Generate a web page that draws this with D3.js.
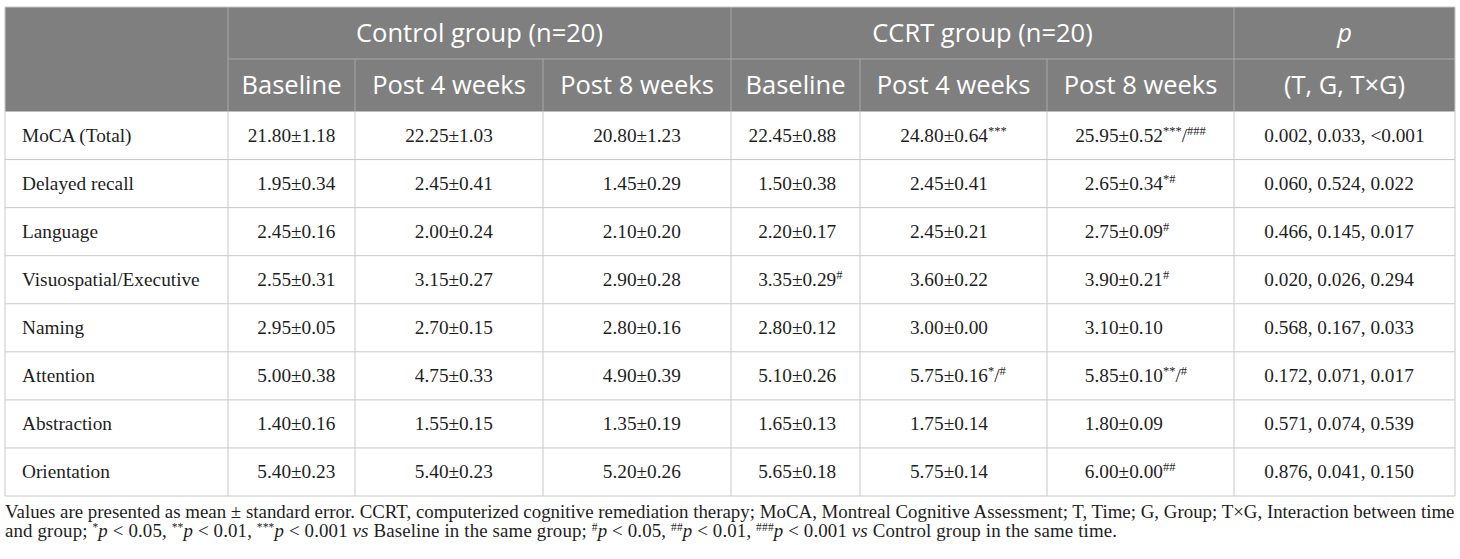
<!DOCTYPE html>
<html>
<head>
<meta charset="utf-8">
<script src="https://cdn.jsdelivr.net/npm/d3@7"></script>
<style>
  html, body { margin: 0; padding: 0; background: #fff; }
  svg { display: block; }
</style>
</head>
<body>
<svg id="chart" width="1460" height="559"></svg>
<script>
// ---------- DATA ----------
const rowLabels = ["MoCA (Total)", "Delayed recall", "Language", "Visuospatial/Executive",
                   "Naming", "Attention", "Abstraction", "Orientation"];
const groupLabels = ["Control group (n=20)", "CCRT group (n=20)"];
const timeLabels = ["Baseline", "Post 4 weeks", "Post 8 weeks"];
const pHeader = "p";
const pSubHeader = "(T, G, T×G)";

const controlBaseline = ["21.80±1.18", "1.95±0.34", "2.45±0.16", "2.55±0.31", "2.95±0.05", "5.00±0.38", "1.40±0.16", "5.40±0.23"];
const controlPost4    = ["22.25±1.03", "2.45±0.41", "2.00±0.24", "3.15±0.27", "2.70±0.15", "4.75±0.33", "1.55±0.15", "5.40±0.23"];
const controlPost8    = ["20.80±1.23", "1.45±0.29", "2.10±0.20", "2.90±0.28", "2.80±0.16", "4.90±0.39", "1.35±0.19", "5.20±0.26"];
const ccrtBaseline    = ["22.45±0.88", "1.50±0.38", "2.20±0.17", "3.35±0.29", "2.80±0.12", "5.10±0.26", "1.65±0.13", "5.65±0.18"];
const ccrtPost4       = ["24.80±0.64", "2.45±0.41", "2.45±0.21", "3.60±0.22", "3.00±0.00", "5.75±0.16", "1.75±0.14", "5.75±0.14"];
const ccrtPost8       = ["25.95±0.52", "2.65±0.34", "2.75±0.09", "3.90±0.21", "3.10±0.10", "5.85±0.10", "1.80±0.09", "6.00±0.00"];
const ccrtBaselineMarks = ["", "", "", "#", "", "", "", ""];
const ccrtPost4Marks    = ["***", "", "", "", "", "*/#", "", ""];
const ccrtPost8Marks    = ["***/###", "*#", "#", "#", "", "**/#", "", "##"];
const pValues = ["0.002, 0.033, <0.001", "0.060, 0.524, 0.022", "0.466, 0.145, 0.017", "0.020, 0.026, 0.294",
                 "0.568, 0.167, 0.033", "0.172, 0.071, 0.017", "0.571, 0.074, 0.539", "0.876, 0.041, 0.150"];
const emptyMarks = rowLabels.map(() => "");

// ---------- LAYOUT ----------
const colEdges = [5, 228, 355, 543, 731, 860, 1047, 1234, 1455];
const tableTop = 7, head1 = 59, head2 = 111.5, tableBottom = 496;
const headerFill = "#7f7f7f", headerLine = "#a8a8a8", gridLine = "#c8c8c8";
const serif = "'Liberation Serif', 'Times New Roman', serif";
const sans = "'Open Sans', 'Noto Sans', sans-serif";
const bodySize = 19.3, supSize = 12.5;

const svg = d3.select("#chart");
const yRow = d3.scaleBand().domain(rowLabels).range([head2, tableBottom]).padding(0);

const columns = [
  { vals: controlBaseline, marks: emptyMarks },
  { vals: controlPost4, marks: emptyMarks },
  { vals: controlPost8, marks: emptyMarks },
  { vals: ccrtBaseline, marks: ccrtBaselineMarks },
  { vals: ccrtPost4, marks: ccrtPost4Marks },
  { vals: ccrtPost8, marks: ccrtPost8Marks },
  { vals: pValues, marks: emptyMarks }
];

// header background
svg.append("rect").attr("x", colEdges[0]).attr("y", tableTop)
  .attr("width", colEdges[8] - colEdges[0]).attr("height", head2 - tableTop)
  .attr("fill", headerFill);

// header lines
const hl = svg.append("g").attr("stroke", headerLine).attr("stroke-width", 1);
hl.append("line").attr("x1", colEdges[1]).attr("x2", colEdges[8]).attr("y1", head1).attr("y2", head1);
[1, 4, 7].forEach(i => hl.append("line").attr("x1", colEdges[i]).attr("x2", colEdges[i]).attr("y1", tableTop).attr("y2", head2));
[2, 3, 5, 6].forEach(i => hl.append("line").attr("x1", colEdges[i]).attr("x2", colEdges[i]).attr("y1", head1).attr("y2", head2));

// header text
const ht = svg.append("g").attr("font-family", sans).attr("font-size", 25.5).attr("fill", "#ffffff")
  .attr("text-anchor", "middle");
groupLabels.forEach((g, i) => {
  const x0 = colEdges[1 + i * 3], x1 = colEdges[4 + i * 3];
  ht.append("text").attr("x", (x0 + x1) / 2).attr("y", (tableTop + head1) / 2).attr("dy", "0.36em").text(g);
});
ht.append("text").attr("x", (colEdges[7] + colEdges[8]) / 2).attr("y", (tableTop + head1) / 2)
  .attr("dy", "0.36em").attr("font-style", "italic").text(pHeader);
for (let gi = 0; gi < 2; gi++) {
  timeLabels.forEach((t, ti) => {
    const c = 1 + gi * 3 + ti;
    ht.append("text").attr("x", (colEdges[c] + colEdges[c + 1]) / 2).attr("y", (head1 + head2) / 2)
      .attr("dy", "0.36em").text(t);
  });
}
ht.append("text").attr("x", (colEdges[7] + colEdges[8]) / 2).attr("y", (head1 + head2) / 2)
  .attr("dy", "0.36em").text(pSubHeader);

// body grid
const gl = svg.append("g").attr("stroke", gridLine).attr("stroke-width", 1).attr("fill", "none");
rowLabels.forEach(r => {
  gl.append("line").attr("x1", colEdges[0]).attr("x2", colEdges[8])
    .attr("y1", yRow(r) + yRow.bandwidth()).attr("y2", yRow(r) + yRow.bandwidth());
});
colEdges.forEach(x => gl.append("line").attr("x1", x).attr("x2", x).attr("y1", head2).attr("y2", tableBottom));
gl.append("line").attr("x1", colEdges[0]).attr("x2", colEdges[8]).attr("y1", tableTop).attr("y2", tableTop);
[0, 8].forEach(i => gl.append("line").attr("x1", colEdges[i]).attr("x2", colEdges[i]).attr("y1", tableTop).attr("y2", head2));

// body text
const body = svg.append("g").attr("font-family", serif).attr("font-size", bodySize).attr("fill", "#1e1e1e");
rowLabels.forEach(r => {
  body.append("text").attr("x", 22).attr("y", yRow(r) + yRow.bandwidth() / 2).attr("dy", "0.33em").text(r);
});

const measure = body.append("text").attr("visibility", "hidden");
function textW(s) { measure.text(s); return measure.node().getComputedTextLength(); }

function addMarks(textSel, marks) {
  for (const ch of marks) {
    if (ch === "/") {
      textSel.append("tspan").attr("font-size", bodySize).attr("baseline-shift", "0").text("/");
    } else {
      textSel.append("tspan").attr("font-size", supSize).attr("baseline-shift", "super").text(ch);
    }
  }
}

columns.forEach((col, ci) => {
  const cx = (colEdges[ci + 1] + colEdges[ci + 2]) / 2;
  const cells = col.vals.map((v, ri) => {
    const t = body.append("text").attr("x", 0).attr("y", yRow(rowLabels[ri]) + yRow.bandwidth() / 2).attr("dy", "0.33em");
    t.append("tspan").text(v);
    addMarks(t, col.marks[ri]);
    const intPart = v.slice(0, v.indexOf("."));
    const iw = textW(intPart);
    const tw = t.node().getComputedTextLength();
    return { t, iw, rw: tw - iw };
  });
  const L = d3.max(cells, d => d.iw), R = d3.max(cells, d => d.rw);
  const dec = cx - (L + R) / 2 + L;
  cells.forEach(c => c.t.attr("x", dec - c.iw));
});
measure.remove();

// footnote
const fnSize = 17;
const foot = svg.append("g").attr("font-family", serif).attr("font-size", fnSize).attr("fill", "#1e1e1e");
const line1 = foot.append("text").attr("x", colEdges[0]).attr("y", 518)
  .text("Values are presented as mean ± standard error. CCRT, computerized cognitive remediation therapy; MoCA, Montreal Cognitive Assessment; T, Time; G, Group; T×G, Interaction between time");
const l1w = line1.node().getComputedTextLength();
const fit = (colEdges[8] - colEdges[0]) / l1w;
if (Math.abs(fit - 1) > 0.005) foot.attr("font-size", fnSize * fit);

const line2 = foot.append("text").attr("x", colEdges[0]).attr("y", 537);
const parts2 = [
  ["and group; ", ""], ["*", "sup"], ["p", "i"], [" < 0.05, ", ""], ["**", "sup"], ["p", "i"], [" < 0.01, ", ""],
  ["***", "sup"], ["p", "i"], [" < 0.001 ", ""], ["vs", "i"], [" Baseline in the same group; ", ""],
  ["#", "sup"], ["p", "i"], [" < 0.05, ", ""], ["##", "sup"], ["p", "i"], [" < 0.01, ", ""],
  ["###", "sup"], ["p", "i"], [" < 0.001 ", ""], ["vs", "i"], [" Control group in the same time.", ""]
];
parts2.forEach(([s, k]) => {
  const ts = line2.append("tspan").text(s);
  if (k === "i") ts.attr("font-style", "italic");
  if (k === "sup") ts.attr("font-size", 11.5).attr("baseline-shift", "super");
});
line2.attr("textLength", 1112).attr("lengthAdjust", "spacing");
</script>
</body>
</html>
